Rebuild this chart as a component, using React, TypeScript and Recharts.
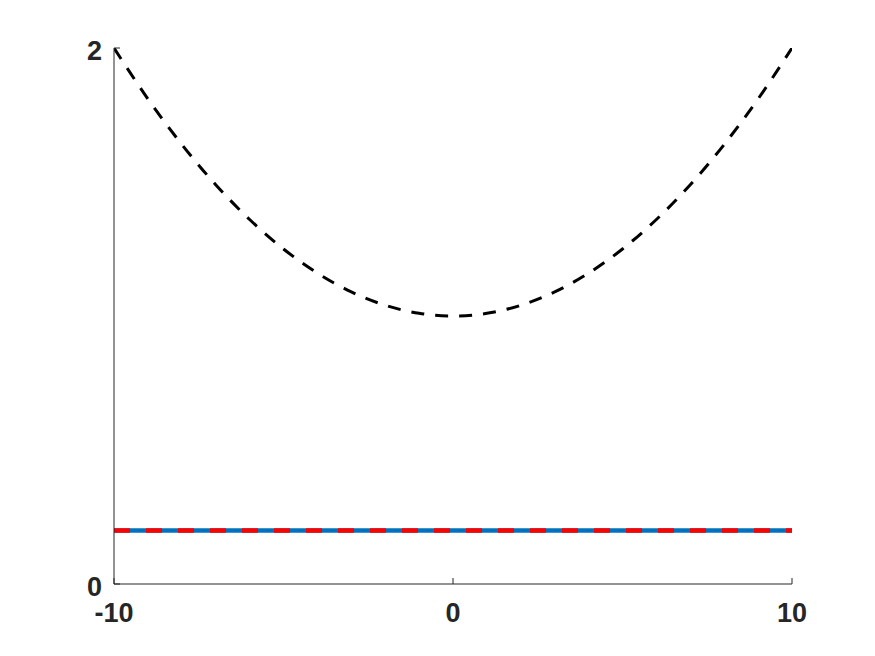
import React from 'react';
import { LineChart, Line, XAxis, YAxis } from 'recharts';

const X_VALUES = [-10, -9, -8, -7, -6, -5, -4, -3, -2, -1, 0, 1, 2, 3, 4, 5, 6, 7, 8, 9, 10];
const CURVE = [2.0, 1.81, 1.64, 1.49, 1.36, 1.25, 1.16, 1.09, 1.04, 1.01, 1.0, 1.01, 1.04, 1.09, 1.16, 1.25, 1.36, 1.49, 1.64, 1.81, 2.0];
const BLUE_LEVEL = [0.2, 0.2, 0.2, 0.2, 0.2, 0.2, 0.2, 0.2, 0.2, 0.2, 0.2, 0.2, 0.2, 0.2, 0.2, 0.2, 0.2, 0.2, 0.2, 0.2, 0.2];
const RED_LEVEL = [0.2, 0.2, 0.2, 0.2, 0.2, 0.2, 0.2, 0.2, 0.2, 0.2, 0.2, 0.2, 0.2, 0.2, 0.2, 0.2, 0.2, 0.2, 0.2, 0.2, 0.2];
const X_TICKS = [-10, 0, 10];
const Y_TICKS = [0, 2];

const AXIS_COLOR = '#262626';
const FONT = '"Liberation Sans", Arial, Helvetica, sans-serif';

const chartData = X_VALUES.map((x, i) => ({
  x,
  curve: CURVE[i],
  blue: BLUE_LEVEL[i],
  red: RED_LEVEL[i],
}));

// y labels sit a bit below the tick, like the original
const YTick = ({ x, y, payload }: any) => (
  <text x={x} y={y + 12} textAnchor="end" fill={AXIS_COLOR}
    style={{ fontFamily: FONT, fontSize: 27, fontWeight: 'bold' }}>
    {payload.value}
  </text>
);

export default function App() {
  return (
    <div style={{ position: 'absolute', left: 0, top: 0, background: '#fff' }}>
      <LineChart width={875} height={656} data={chartData}
        margin={{ top: 48, right: 83, bottom: 32, left: 54 }}>
        <XAxis
          dataKey="x"
          type="number"
          domain={[-10, 10]}
          ticks={X_TICKS}
          allowDataOverflow
          height={40}
          stroke={AXIS_COLOR}
          tickSize={-6}
          tickMargin={25}
          tick={{ fill: AXIS_COLOR, fontSize: 27, fontWeight: 'bold', fontFamily: FONT }}
        />
        <YAxis
          type="number"
          domain={[0, 2]}
          ticks={Y_TICKS}
          allowDataOverflow
          width={60}
          stroke={AXIS_COLOR}
          tickSize={-6}
          tickMargin={18}
          tick={<YTick />}
        />
        <Line dataKey="blue" type="linear" stroke="#0072BD" strokeWidth={4.5}
          dot={false} isAnimationActive={false} />
        <Line dataKey="red" type="linear" stroke="#FF0000" strokeWidth={4.5}
          strokeDasharray="16 16" dot={false} isAnimationActive={false} />
        <Line dataKey="curve" type="monotone" stroke="#000000" strokeWidth={3}
          strokeDasharray="13 11" dot={false} isAnimationActive={false} />
      </LineChart>
    </div>
  );
}
